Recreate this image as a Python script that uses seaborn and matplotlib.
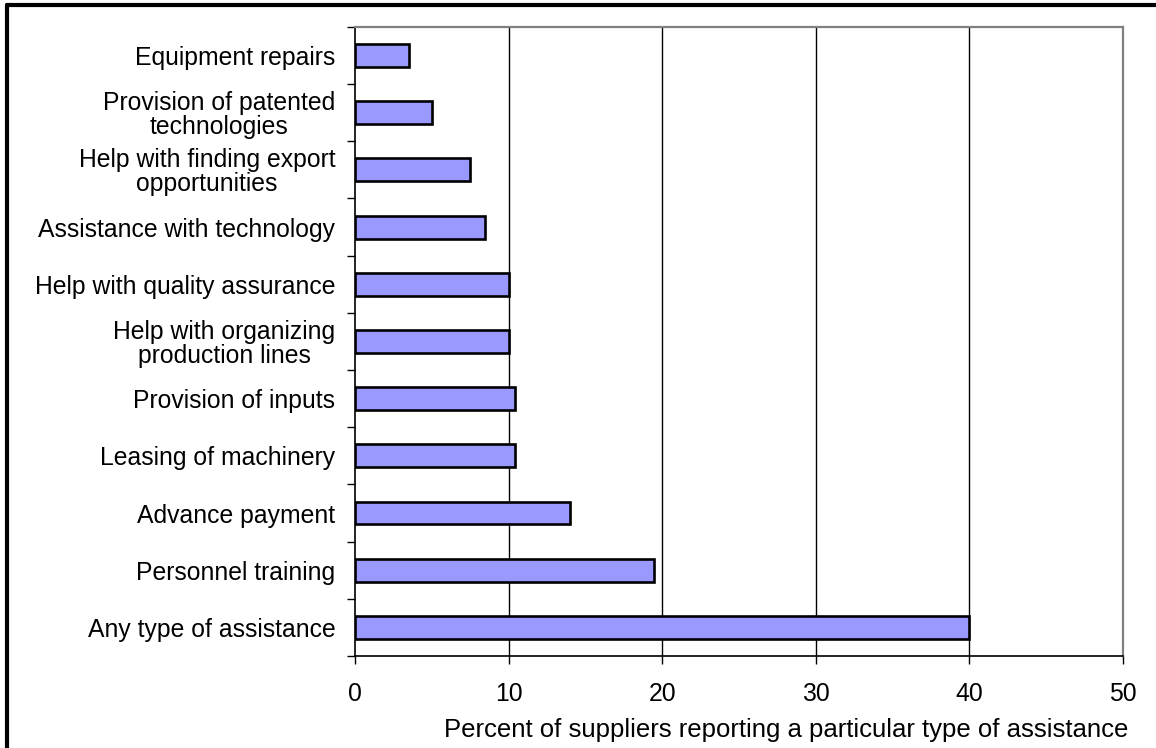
import matplotlib
matplotlib.use("Agg")
import matplotlib.pyplot as plt
from matplotlib.lines import Line2D
import seaborn as sns
import pandas as pd
import numpy as np

categories = [
    "Equipment repairs",
    "Provision of patented\ntechnologies",
    "Help with finding export\nopportunities",
    "Assistance with technology",
    "Help with quality assurance",
    "Help with organizing\nproduction lines",
    "Provision of inputs",
    "Leasing of machinery",
    "Advance payment",
    "Personnel training",
    "Any type of assistance",
]
percent = [3.5, 5.0, 7.5, 8.5, 10.0, 10.0, 10.4, 10.4, 14.0, 19.5, 40.0]
x_ticks = [0, 10, 20, 30, 40, 50]
x_label = "Percent of suppliers reporting a particular type of assistance"

df = pd.DataFrame({"category": categories, "percent": percent})

sns.set_theme(style="white")
plt.rcParams["font.family"] = ["Liberation Sans", "DejaVu Sans"]
plt.rcParams["text.color"] = "black"
plt.rcParams["xtick.color"] = "black"
plt.rcParams["ytick.color"] = "black"
plt.rcParams["axes.labelcolor"] = "black"
FS = 17.8

fig = plt.figure(figsize=(11.56, 7.48), dpi=100)
ax = fig.add_axes([0.307, 0.123, 0.6645, 0.841])

sns.barplot(data=df, y="category", x="percent", orient="h", ax=ax,
            color="#9999FF", saturation=1, width=0.4,
            edgecolor="black", linewidth=1.9, zorder=3)

ax.set_xlim(0, 50)
ax.set_ylim(len(categories) - 0.5, -0.5)
ax.set_xticks(x_ticks)
ax.set_xticklabels([str(t) for t in x_ticks], fontsize=FS)

# category labels on major ticks without tick marks, boundary marks on minor ticks
ax.set_yticks(range(len(categories)))
ax.set_yticklabels(categories, fontsize=FS, linespacing=1.0, ha="right",
                   multialignment="center")
ax.set_yticks(np.arange(-0.5, len(categories), 1.0), minor=True)
ax.tick_params(axis="y", which="major", length=0, pad=14)
ax.tick_params(axis="y", which="minor", length=6, width=1, color="black",
               direction="out", left=True)
ax.tick_params(axis="x", which="major", length=6, width=1, color="black",
               direction="out", bottom=True, pad=13)

for xv in x_ticks[1:-1]:
    ax.axvline(xv, color="black", linewidth=1.0, zorder=1)

ax.set_ylabel("")
ax.set_xlabel(x_label, fontsize=18.5, ha="right")
ax.xaxis.set_label_coords(1.007, -0.098)

for side in ["left", "bottom"]:
    ax.spines[side].set_color("black")
    ax.spines[side].set_linewidth(1.2)
for side in ["top", "right"]:
    ax.spines[side].set_color("#808080")
    ax.spines[side].set_linewidth(1.6)
for sp in ax.spines.values():
    sp.set_visible(True)

# frame around the chart area (top and left edges)
fig.add_artist(Line2D([7 / 1156, 7 / 1156], [0, 1 - 5 / 748],
                      transform=fig.transFigure, color="black", linewidth=3))
fig.add_artist(Line2D([7 / 1156, 1], [1 - 5 / 748, 1 - 5 / 748],
                      transform=fig.transFigure, color="black", linewidth=3))

fig.savefig("out.png", dpi=100, facecolor="white")
